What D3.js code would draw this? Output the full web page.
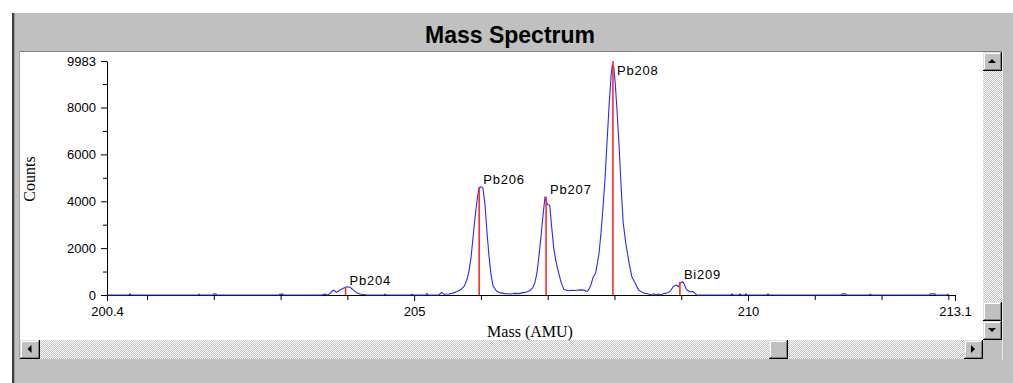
<!DOCTYPE html>
<html>
<head>
<meta charset="utf-8">
<script src="https://cdn.jsdelivr.net/npm/d3@7/dist/d3.min.js"></script>
<style>
  html, body { margin: 0; padding: 0; background: #ffffff; }
  svg { display: block; }
</style>
</head>
<body>
<svg id="chart" width="1013" height="383"></svg>
<script>
// ---- data -----------------------------------------------------------
const chartTitle = "Mass Spectrum";
const xTitle = "Mass (AMU)";
const yTitle = "Counts";

const massDomain = [200.4, 213.1];
const countDomain = [0, 9983];

const massTicksLabeled = [200.4, 205, 210, 213.1];
const massTicksMinor = [201, 202, 203, 204, 206, 207, 208, 209, 211, 212, 213];
const countTicksLabeled = [0, 2000, 4000, 6000, 8000, 9983];
const countTicksMinor = [1000, 3000, 5000, 7000, 9000];

// identified isotopes (stick markers)
const isotopeNames = ["Pb204", "Pb206", "Pb207", "Pb208", "Bi209"];
const isotopeMass = [203.973, 205.974, 206.976, 207.977, 208.980];
const isotopeCounts = [300, 4620, 4190, 9983, 570];

// measured spectrum: [mass, counts]
const spectrum = [
  [200.40,0],[200.73,0],[200.745,45],[200.76,0],
  [201.77,0],[201.78,40],[201.795,0],
  [201.98,0],[201.995,50],[202.01,30],[202.03,50],[202.045,0],
  [202.98,0],[202.995,45],[203.01,20],[203.03,50],[203.045,0],
  [203.62,0],[203.66,40],[203.70,0],
  [203.74,70],[203.785,210],[203.84,115],[203.89,210],[203.94,285],[203.99,355],
  [204.04,330],[204.09,210],[204.14,100],[204.19,40],[204.29,0],
  [204.55,0],[204.565,40],[204.58,0],
  [204.95,0],[204.97,30],[204.99,0],
  [205.17,0],[205.19,70],[205.21,0],
  [205.37,0],[205.41,110],[205.45,30],[205.52,40],[205.58,80],[205.64,150],[205.70,230],
  [205.75,380],[205.79,650],[205.82,1000],[205.85,1550],[205.88,2400],[205.91,3250],
  [205.94,4000],[205.97,4550],[206.00,4620],[206.03,4560],[206.06,3900],[206.09,2700],
  [206.12,1700],[206.15,900],[206.18,400],[206.23,180],[206.29,90],[206.36,60],
  [206.45,40],[206.51,70],[206.57,60],[206.63,100],[206.68,130],[206.73,180],
  [206.78,330],[206.81,550],[206.84,950],[206.87,1700],[206.90,2500],[206.93,3400],
  [206.96,4190],[206.98,3980],[207.00,3850],[207.03,3840],[207.06,2900],[207.09,2000],
  [207.12,1500],[207.15,1100],[207.20,550],[207.24,250],[207.30,180],[207.36,200],
  [207.41,190],[207.46,210],[207.51,220],[207.55,200],[207.59,150],[207.62,250],
  [207.65,450],[207.68,750],[207.72,950],[207.77,1800],[207.80,2700],[207.83,3800],
  [207.86,5000],[207.89,6600],[207.92,8100],[207.95,9400],[207.97,9850],[207.99,9700],
  [208.01,9100],[208.04,7800],[208.07,6300],[208.10,4600],[208.13,3100],[208.17,2200],
  [208.22,1350],[208.26,780],[208.32,450],[208.36,210],[208.44,80],[208.51,40],
  [208.56,0],[208.59,60],[208.62,0],[208.66,40],[208.70,0],[208.73,50],[208.78,80],
  [208.83,150],[208.88,350],[208.92,430],[208.96,350],[208.98,500],[209.02,570],
  [209.05,430],[209.08,220],[209.13,140],[209.17,150],[209.21,70],[209.23,0],
  [209.745,0],[209.76,45],[209.775,0],
  [209.865,0],[209.88,45],[209.895,0],
  [209.955,0],[209.97,45],[209.985,0],
  [210.285,0],[210.30,45],[210.315,0],
  [211.40,0],[211.41,50],[211.46,50],[211.47,0],
  [211.815,0],[211.83,40],[211.845,0],
  [212.72,0],[212.73,50],[212.80,50],[212.81,0],
  [212.98,0],[212.995,40],[213.0,0]
];

// ---- window frame ---------------------------------------------------
const svg = d3.select("#chart");
const FACE = "#c0c0c0";

const defs = svg.append("defs");
const pat = defs.append("pattern")
  .attr("id", "dither").attr("width", 2).attr("height", 2)
  .attr("patternUnits", "userSpaceOnUse");
pat.append("rect").attr("width", 2).attr("height", 2).attr("fill", "#ffffff");
pat.append("rect").attr("x", 1).attr("y", 0).attr("width", 1).attr("height", 1).attr("fill", FACE);
pat.append("rect").attr("x", 0).attr("y", 1).attr("width", 1).attr("height", 1).attr("fill", FACE);

svg.append("rect").attr("x", 12).attr("y", 13).attr("width", 1001).attr("height", 370).attr("fill", FACE);
svg.append("rect").attr("x", 12).attr("y", 13).attr("width", 2).attr("height", 370).attr("fill", "#3c3c3c");
svg.append("rect").attr("x", 14).attr("y", 13).attr("width", 1).attr("height", 370).attr("fill", "#9a9a9a");

// title
svg.append("text")
  .attr("x", 510).attr("y", 43)
  .attr("text-anchor", "middle")
  .style("font-family", "'Liberation Sans', Arial, sans-serif")
  .style("font-weight", "bold")
  .style("font-size", "23px")
  .attr("fill", "#000")
  .text(chartTitle);

// plot panel
svg.append("rect").attr("x", 19).attr("y", 51).attr("width", 984).attr("height", 1).attr("fill", "#808080");
svg.append("rect").attr("x", 19).attr("y", 51).attr("width", 1).attr("height", 309).attr("fill", "#a0a0a0");
svg.append("rect").attr("x", 20).attr("y", 52).attr("width", 963).attr("height", 288).attr("fill", "#ffffff");
svg.append("rect").attr("x", 1002).attr("y", 51).attr("width", 1).attr("height", 309).attr("fill", "#e8e8e8");

// scroll bars
function button(x, y, w, h, dir) {
  const g = svg.append("g");
  g.append("rect").attr("x", x).attr("y", y).attr("width", w).attr("height", h).attr("fill", FACE);
  g.append("rect").attr("x", x).attr("y", y).attr("width", w).attr("height", 1).attr("fill", "#dfdfdf");
  g.append("rect").attr("x", x).attr("y", y).attr("width", 1).attr("height", h).attr("fill", "#dfdfdf");
  g.append("rect").attr("x", x + 1).attr("y", y + 1).attr("width", w - 2).attr("height", 1).attr("fill", "#ffffff");
  g.append("rect").attr("x", x + 1).attr("y", y + 1).attr("width", 1).attr("height", h - 2).attr("fill", "#ffffff");
  g.append("rect").attr("x", x).attr("y", y + h - 1).attr("width", w).attr("height", 1).attr("fill", "#000");
  g.append("rect").attr("x", x + w - 1).attr("y", y).attr("width", 1).attr("height", h).attr("fill", "#000");
  g.append("rect").attr("x", x + 1).attr("y", y + h - 2).attr("width", w - 2).attr("height", 1).attr("fill", "#808080");
  g.append("rect").attr("x", x + w - 2).attr("y", y + 1).attr("width", 1).attr("height", h - 2).attr("fill", "#808080");
  const cx = x + w / 2 - 0.5, cy = y + h / 2 - 0.5;
  let pts = null;
  if (dir === "up") pts = [[cx - 4, cy + 2], [cx + 4, cy + 2], [cx, cy - 2]];
  if (dir === "down") pts = [[cx - 4, cy - 2], [cx + 4, cy - 2], [cx, cy + 2]];
  if (dir === "left") pts = [[cx + 2, cy - 4], [cx + 2, cy + 4], [cx - 2, cy]];
  if (dir === "right") pts = [[cx - 2, cy - 4], [cx - 2, cy + 4], [cx + 2, cy]];
  if (pts) g.append("polygon").attr("points", pts.map(p => p.join(",")).join(" ")).attr("fill", "#000");
}
// vertical
svg.append("rect").attr("x", 983).attr("y", 71).attr("width", 19).attr("height", 250).attr("fill", "url(#dither)");
button(983, 52, 19, 19, "up");
button(983, 302, 19, 19, "none");
button(983, 321, 19, 19, "down");
// horizontal
svg.append("rect").attr("x", 40).attr("y", 340).attr("width", 925).attr("height", 19).attr("fill", "url(#dither)");
button(20, 340, 20, 19, "left");
button(769, 340, 19, 19, "none");
button(964, 340, 19, 19, "right");
svg.append("rect").attr("x", 983).attr("y", 340).attr("width", 19).attr("height", 20).attr("fill", FACE);

// ---- chart ----------------------------------------------------------
const x = d3.scaleLinear().domain(massDomain).range([107, 955]);
const y = d3.scaleLinear().domain(countDomain).range([295, 61]);

const tickFont = "'Liberation Sans', Arial, sans-serif";

function styleAxis(g) {
  g.attr("font-family", null).attr("font-size", null);
  g.selectAll("text")
    .style("font-family", tickFont)
    .style("font-size", "13px")
    .attr("fill", "#000");
  g.selectAll("line").attr("stroke", "#000");
  g.selectAll("path").attr("stroke", "#000");
}

// y axis
const yAxisG = svg.append("g").attr("transform", "translate(107,0)")
  .call(d3.axisLeft(y).tickValues(countTicksLabeled).tickSize(6).tickSizeOuter(0)
    .tickPadding(5).tickFormat(d3.format("d")));
styleAxis(yAxisG);
const yMinorG = svg.append("g").attr("transform", "translate(107,0)")
  .call(d3.axisLeft(y).tickValues(countTicksMinor).tickSize(4).tickFormat(""));
yMinorG.select(".domain").remove();
styleAxis(yMinorG);

// x axis
const xAxisG = svg.append("g").attr("transform", "translate(0,295)")
  .call(d3.axisBottom(x).tickValues(massTicksLabeled).tickSize(6).tickSizeOuter(0)
    .tickPadding(6).tickFormat(d => String(d)));
styleAxis(xAxisG);
const xMinorG = svg.append("g").attr("transform", "translate(0,295)")
  .call(d3.axisBottom(x).tickValues(massTicksMinor).tickSize(5).tickFormat(""));
xMinorG.select(".domain").remove();
styleAxis(xMinorG);

// axis titles
svg.append("text")
  .attr("x", 530).attr("y", 337)
  .attr("text-anchor", "middle")
  .style("font-family", "'Liberation Serif', 'Times New Roman', serif")
  .style("font-size", "16px")
  .attr("fill", "#000")
  .text(xTitle);
svg.append("text")
  .attr("transform", "translate(35,179) rotate(-90)")
  .attr("text-anchor", "middle")
  .style("font-family", "'Liberation Serif', 'Times New Roman', serif")
  .style("font-size", "16px")
  .attr("fill", "#000")
  .text(yTitle);

// spectrum trace
const line = d3.line().x(d => x(d[0])).y(d => y(d[1]));
svg.append("path")
  .datum(spectrum)
  .attr("d", line)
  .attr("fill", "none")
  .attr("stroke", "#2828ff")
  .attr("stroke-width", 1.1)
  .attr("stroke-linejoin", "round");

// isotope sticks
const sticks = isotopeNames.map((n, i) => ({ name: n, mass: isotopeMass[i], counts: isotopeCounts[i] }));
svg.append("g").selectAll("line")
  .data(sticks).join("line")
  .attr("x1", d => x(d.mass)).attr("x2", d => x(d.mass))
  .attr("y1", y(0)).attr("y2", d => y(d.counts))
  .attr("stroke", "#ff2a2a")
  .attr("stroke-width", 1.6);

// isotope labels
svg.append("g").selectAll("text")
  .data(sticks).join("text")
  .attr("x", d => x(d.mass) + 4)
  .attr("y", d => Math.max(y(d.counts) - 3, y(countDomain[1]) + 14))
  .style("font-family", tickFont)
  .style("font-size", "13px")
  .style("letter-spacing", "0.8px")
  .attr("fill", "#000")
  .text(d => d.name);
</script>
</body>
</html>
